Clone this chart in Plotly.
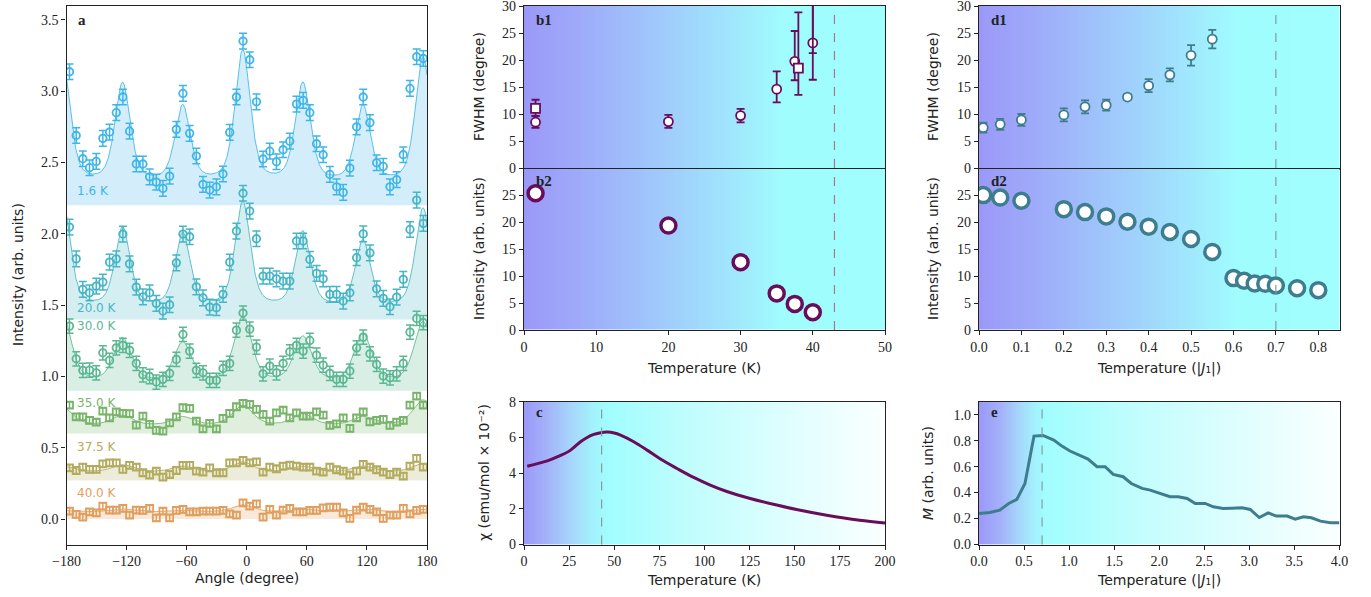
import numpy as np
import plotly.graph_objects as go

W, H = 1371, 597

# ---------------- Panel a data ----------------
angles = [-177.0, -170.3, -163.7, -157.0, -150.3, -143.7, -137.0, -130.3, -123.7, -117.0,
          -110.3, -103.7, -97.0, -90.3, -83.7, -77.0, -70.3, -63.7, -57.0, -50.3,
          -43.7, -37.0, -30.3, -23.7, -17.0, -10.3, -3.7, 3.0, 9.7, 16.3,
          23.0, 29.7, 36.3, 43.0, 49.7, 56.3, 63.0, 69.7, 76.3, 83.0,
          89.7, 96.3, 103.0, 109.7, 116.3, 123.0, 129.7, 136.3, 143.0, 149.7,
          156.3, 163.0, 169.7, 176.3]

I_1p6 = [3.137, 2.69, 2.527, 2.464, 2.508, 2.67, 2.714, 2.85, 2.96, 2.72,
         2.49, 2.49, 2.40, 2.363, 2.319, 2.405, 2.733, 2.985, 2.705, 2.546,
         2.347, 2.307, 2.33, 2.42, 2.712, 2.96, 3.352, 3.221, 2.926, 2.525,
         2.58, 2.506, 2.59, 2.65, 2.91, 2.936, 2.85, 2.632, 2.555, 2.417,
         2.33, 2.291, 2.461, 2.751, 2.96, 2.78, 2.499, 2.473, 2.33, 2.38,
         2.555, 3.02, 3.242, 3.23]
I_20 = [2.048, 1.825, 1.611, 1.587, 1.634, 1.662, 1.802, 1.825, 1.999, 1.79,
        1.627, 1.559, 1.587, 1.513, 1.459, 1.503, 1.797, 1.999, 1.98, 1.629,
        1.552, 1.487, 1.482, 1.576, 1.802, 2.02, 2.285, 2.16, 1.966, 1.704,
        1.704, 1.685, 1.669, 1.669, 1.95, 1.95, 1.821, 1.723, 1.685, 1.576,
        1.576, 1.529, 1.587, 1.833, 2.0, 1.867, 1.615, 1.548, 1.489, 1.557,
        1.681, 2.031, 2.237, 2.074]
I_30 = [1.353, 1.124, 1.043, 1.045, 1.026, 1.166, 1.113, 1.201, 1.218, 1.183,
        1.092, 1.012, 1.0, 0.961, 0.98, 1.022, 1.12, 1.295, 1.178, 1.043,
        1.026, 0.973, 0.973, 1.057, 1.092, 1.325, 1.445, 1.332, 1.206, 1.019,
        1.073, 1.026, 1.092, 1.173, 1.218, 1.178, 1.253, 1.15, 1.08, 1.022,
        0.98, 0.98, 1.038, 1.201, 1.276, 1.159, 1.085, 1.003, 0.991, 1.019,
        1.092, 1.311, 1.407, 1.377]
I_35 = [0.80, 0.717, 0.717, 0.692, 0.68, 0.757, 0.71, 0.752, 0.741, 0.74,
        0.659, 0.722, 0.664, 0.622, 0.617, 0.675, 0.717, 0.781, 0.776, 0.687,
        0.633, 0.671, 0.633, 0.706, 0.741, 0.788, 0.811, 0.804, 0.769, 0.734,
        0.687, 0.745, 0.764, 0.71, 0.745, 0.722, 0.722, 0.752, 0.729, 0.657,
        0.668, 0.71, 0.636, 0.71, 0.752, 0.682, 0.692, 0.699, 0.657, 0.68,
        0.692, 0.80, 0.863, 0.80]
I_37p5 = [0.36, 0.341, 0.365, 0.349, 0.349, 0.388, 0.395, 0.395, 0.349, 0.377,
          0.365, 0.325, 0.309, 0.337, 0.295, 0.313, 0.341, 0.377, 0.377, 0.337,
          0.33, 0.36, 0.325, 0.325, 0.395, 0.395, 0.412, 0.395, 0.402, 0.33,
          0.365, 0.353, 0.372, 0.379, 0.372, 0.365, 0.365, 0.337, 0.33, 0.365,
          0.346, 0.337, 0.309, 0.337, 0.383, 0.365, 0.346, 0.33, 0.313, 0.33,
          0.302, 0.372, 0.426, 0.365]
I_40 = [0.056, 0.033, 0.014, 0.051, 0.044, 0.091, 0.063, 0.063, 0.075, 0.028,
        0.063, 0.061, 0.075, 0.009, 0.056, 0.009, 0.061, 0.068, 0.051, 0.051,
        0.056, 0.056, 0.056, 0.061, 0.037, 0.028, 0.114, 0.091, 0.107, 0.014,
        0.068, 0.028, 0.063, 0.075, 0.051, 0.051, 0.061, 0.061, 0.079, 0.084,
        0.084, 0.044, 0.005, 0.063, 0.084, 0.068, 0.051, 0.005, 0.028, 0.028,
        0.075, 0.037, 0.061, 0.068]

temps_a = ["1.6 K", "20.0 K", "30.0 K", "35.0 K", "37.5 K", "40.0 K"]
series_a = [I_1p6, I_20, I_30, I_35, I_37p5, I_40]
err_a = [0.055, 0.055, 0.05, 0.022, 0.022, 0.022]
offsets_a = [2.2, 1.4, 0.9, 0.6, 0.27, 0.0]
label_y_a = [2.30, 1.48, 1.353, 0.813, 0.505, 0.182]
colors_a = ["#3fb6e8", "#46b6c6", "#5bb893", "#78b56b", "#b3ac5f", "#e19f5e"]
rgb_a = [(63, 182, 232), (70, 182, 198), (91, 184, 147), (120, 181, 107), (179, 172, 95), (225, 159, 94)]
symbols_a = ["circle-open", "circle-open", "circle-open", "square-open", "square-open", "square-open"]

# pseudo-Voigt fit parameters
fit_centers = [-184, -124, -64, -4, 56, 116, 176]
fit_bg = [2.35, 1.475, 0.95, 0.655, 0.33, 0.05]
fit_fwhm = [18.0, 18.0, 21.0, 24.0, 24.0, 24.0]
fit_amps = [
    [0.86, 0.695, 0.535, 0.925, 0.695, 0.535, 0.885],
    [0.76, 0.56, 0.52, 0.74, 0.53, 0.47, 0.70],
    [0.48, 0.31, 0.28, 0.46, 0.32, 0.34, 0.43],
    [0.13, 0.07, 0.06, 0.14, 0.08, 0.06, 0.18],
    [0.04, 0.05, 0.04, 0.07, 0.04, 0.04, 0.06],
    [0.01, 0.02, 0.01, 0.05, 0.02, 0.02, 0.02],
]

# ---------------- Panel b data ----------------
b_T = [1.6, 20, 30, 35, 37.5, 40]
b_fwhm = [8.55, 8.66, 9.77, 14.66, 19.8, 23.2]
b_fwhm_plus = [1.15, 1.25, 1.25, 3.3, 5.6, 8.0]
b_fwhm_minus = [1.05, 1.15, 1.25, 2.45, 3.5, 6.8]
b_sq_T = [1.6, 38.0, 40.0]
b_sq_fwhm = [11.1, 18.55, 33.0]
b_sq_plus = [1.6, 10.3, 5.0]
b_sq_minus = [1.4, 4.95, 11.7]
b_int = [25.4, 19.4, 12.6, 6.8, 4.85, 3.3]
b_Tc = 43.0

# ---------------- Panel c data ----------------
c_T = [1.8, 12.9, 20.3, 25.8, 31.3, 35.0, 38.7, 42.5, 46.1, 50.0, 53.5, 60.8, 68.2, 75.6,
       84.8, 94.0, 103.2, 112.4, 125.3, 140.0, 151.0, 167.7, 186.0, 200.0]
c_chi = [4.39, 4.69, 4.99, 5.29, 5.76, 6.0, 6.17, 6.27, 6.30, 6.25, 6.13, 5.76, 5.29, 4.79,
         4.26, 3.76, 3.33, 2.97, 2.58, 2.21, 1.96, 1.64, 1.36, 1.21]

# ---------------- Panel d data ----------------
d1_T = [0.01, 0.05, 0.1, 0.2, 0.25, 0.3, 0.35, 0.4, 0.45, 0.5, 0.55]
d1_fwhm = [7.55, 8.16, 8.97, 9.9, 11.4, 11.7, 13.2, 15.3, 17.3, 20.9, 23.9]
d1_err = [0.9, 1.0, 1.1, 1.2, 1.2, 1.0, 0.5, 1.2, 1.2, 1.9, 1.7]
d2_T = [0.01, 0.05, 0.1, 0.2, 0.25, 0.3, 0.35, 0.4, 0.45, 0.5, 0.55, 0.6, 0.625, 0.65,
        0.675, 0.7, 0.75, 0.8]
d2_int = [25.06, 24.6, 24.0, 22.45, 21.9, 21.1, 20.1, 19.2, 18.2, 16.9, 14.5, 9.64, 9.14,
          8.64, 8.58, 8.27, 7.77, 7.4]
d_Tc = 0.7

# ---------------- Panel e data ----------------
e_T = [0.0, 0.12, 0.23, 0.33, 0.42, 0.51, 0.61, 0.71, 0.83, 0.92, 1.01, 1.12, 1.21, 1.31,
       1.40, 1.49, 1.60, 1.69, 1.81, 1.90, 2.01, 2.12, 2.21, 2.31, 2.40, 2.51, 2.60, 2.71,
       2.80, 2.92, 3.01, 3.11, 3.21, 3.30, 3.42, 3.51, 3.60, 3.69, 3.79, 3.90, 4.0]
e_M = [0.239, 0.247, 0.265, 0.316, 0.347, 0.47, 0.835, 0.84, 0.805, 0.758, 0.72, 0.689,
       0.658, 0.599, 0.599, 0.54, 0.522, 0.47, 0.432, 0.419, 0.393, 0.368, 0.368, 0.355,
       0.316, 0.316, 0.29, 0.278, 0.28, 0.283, 0.27, 0.208, 0.244, 0.219, 0.219, 0.195,
       0.213, 0.206, 0.18, 0.167, 0.167]

PURPLE = "#690c5c"
TEAL = "#3e7d8e"

# ---------------- layout geometry (pixels) ----------------
def xd(x0, x1):
    return [x0 / W, x1 / W]

def yd(y0, y1):  # y0 top px, y1 bottom px
    return [1 - y1 / H, 1 - y0 / H]

A_X = xd(66.5, 427)
B_X = xd(524, 885)
D_X = xd(979, 1339.5)
TOP = yd(6, 168.5)
MID = yd(168.5, 330)
BOT = yd(401.7, 544.5)
A_Y = yd(6, 544.5)

fig = go.Figure()

# ---------------- gradient backgrounds ----------------
def grad(xa, ya, x0, x1, stops):
    xs = list(np.linspace(x0, x1, 240))
    fig.add_trace(go.Heatmap(x=xs, y=[-1000, 1000], z=[xs, xs], zmin=x0, zmax=x1,
                             colorscale=stops, zsmooth="best", showscale=False,
                             hoverinfo="skip", xaxis=xa, yaxis=ya))

stops_bd = [[0, "#9b99f8"], [0.15, "#9eaaf9"], [0.4, "#a0cdfc"], [0.6, "#a0eafd"],
            [0.72, "#a0fdfe"], [1, "#a0fefe"]]
stops_c = [[0, "#9b99f8"], [0.06, "#a3b2f9"], [0.13, "#a6d6fb"], [0.19, "#a2f2fd"],
           [0.23, "#a0fdfe"], [0.45, "#c0fdfd"], [0.7, "#dcfefe"], [1, "#fbffff"]]
stops_e = [[0, "#9b99f8"], [0.06, "#a3b2f9"], [0.11, "#a6d6fb"], [0.155, "#a2f2fd"],
           [0.18, "#a0fdfe"], [0.45, "#c4fdfd"], [0.75, "#e2fefe"], [1, "#fbffff"]]

grad("x2", "y2", 0, 50, stops_bd)
grad("x3", "y3", 0, 50, stops_bd)
grad("x4", "y4", 0, 200, stops_c)
grad("x5", "y5", 0, 0.85, stops_bd)
grad("x6", "y6", 0, 0.85, stops_bd)
grad("x7", "y7", 0, 4, stops_e)

# ---------------- panel a ----------------
def pvoigt(x, c, amp, fwhm, eta=0.5):
    u = (x - c) / (fwhm / 2.0)
    return amp * (eta / (1 + u ** 2) + (1 - eta) * np.exp(-np.log(2) * u ** 2))

xfit = np.linspace(-180, 180, 721)
for i in range(6):
    r, g, b = rgb_a[i]
    yfit = np.full_like(xfit, fit_bg[i])
    for c, amp in zip(fit_centers, fit_amps[i]):
        yfit = yfit + pvoigt(xfit, c, amp, fit_fwhm[i])
    fig.add_trace(go.Scatter(x=[-180, 180], y=[offsets_a[i]] * 2, mode="lines",
                             line=dict(width=0, color="rgba(0,0,0,0)"), showlegend=False,
                             hoverinfo="skip", xaxis="x", yaxis="y"))
    fig.add_trace(go.Scatter(x=xfit, y=yfit, mode="lines", fill="tonexty",
                             fillcolor=f"rgba({r},{g},{b},0.23)",
                             line=dict(width=1, color=f"rgba({r},{g},{b},0.85)"),
                             showlegend=False, hoverinfo="skip", xaxis="x", yaxis="y"))
    fig.add_trace(go.Scatter(x=angles, y=series_a[i], mode="markers",
                             marker=dict(symbol=symbols_a[i], size=7.5 if i < 3 else 7,
                                         color=colors_a[i], line=dict(width=1.8, color=colors_a[i])),
                             error_y=dict(type="constant", value=err_a[i], color=colors_a[i],
                                          thickness=1.5, width=4),
                             showlegend=False, xaxis="x", yaxis="y"))

# ---------------- panel b ----------------
fig.add_trace(go.Scatter(x=b_T, y=b_fwhm, mode="markers",
                         marker=dict(symbol="circle", size=9, color="white",
                                     line=dict(width=1.8, color=PURPLE)),
                         error_y=dict(type="data", array=b_fwhm_plus, arrayminus=b_fwhm_minus,
                                      color=PURPLE, thickness=1.8, width=4),
                         showlegend=False, xaxis="x2", yaxis="y2"))
fig.add_trace(go.Scatter(x=b_sq_T, y=b_sq_fwhm, mode="markers",
                         marker=dict(symbol="square", size=9, color="white",
                                     line=dict(width=1.8, color=PURPLE)),
                         error_y=dict(type="data", array=b_sq_plus, arrayminus=b_sq_minus,
                                      color=PURPLE, thickness=1.8, width=4),
                         showlegend=False, xaxis="x2", yaxis="y2"))
fig.add_trace(go.Scatter(x=b_T, y=b_int, mode="markers",
                         marker=dict(symbol="circle", size=15, color="white",
                                     line=dict(width=3.5, color=PURPLE)),
                         showlegend=False, xaxis="x3", yaxis="y3"))

# ---------------- panel c ----------------
fig.add_trace(go.Scatter(x=c_T, y=c_chi, mode="lines", line=dict(color=PURPLE, width=3, shape="spline"),
                         showlegend=False, xaxis="x4", yaxis="y4"))

# ---------------- panel d ----------------
fig.add_trace(go.Scatter(x=d1_T, y=d1_fwhm, mode="markers",
                         marker=dict(symbol="circle", size=9, color="white",
                                     line=dict(width=1.8, color=TEAL)),
                         error_y=dict(type="data", array=d1_err, color=TEAL, thickness=1.8, width=4),
                         showlegend=False, xaxis="x5", yaxis="y5"))
fig.add_trace(go.Scatter(x=d2_T, y=d2_int, mode="markers",
                         marker=dict(symbol="circle", size=15, color="white",
                                     line=dict(width=3.5, color=TEAL)),
                         showlegend=False, xaxis="x6", yaxis="y6"))

# ---------------- panel e ----------------
fig.add_trace(go.Scatter(x=e_T, y=e_M, mode="lines", line=dict(color=TEAL, width=3),
                         showlegend=False, xaxis="x7", yaxis="y7"))

# ---------------- axes ----------------
TICKFONT = dict(family="Liberation Serif", size=14, color="#222")

def ax(domain, anchor, rng, tickvals=None, ticktext=None, showlabels=True, **kw):
    d = dict(domain=domain, anchor=anchor, range=rng, showline=True, mirror=True,
             linecolor="#222", linewidth=1.3, ticks="outside", ticklen=4, tickwidth=1,
             tickcolor="#222", showgrid=False, zeroline=False, tickfont=TICKFONT,
             showticklabels=showlabels, fixedrange=True, automargin=False,
             ticklabeloverflow="allow")
    if tickvals is not None:
        d["tickvals"] = tickvals
    if ticktext is not None:
        d["ticktext"] = ticktext
    d.update(kw)
    return d

fig.update_layout(
    template="none",
    width=W, height=H, margin=dict(l=0, r=0, t=0, b=0, pad=0), autosize=False,
    paper_bgcolor="white", plot_bgcolor="white", showlegend=False,
    xaxis=ax(A_X, "y", [-180, 180], [-180, -120, -60, 0, 60, 120, 180]),
    yaxis=ax(A_Y, "x", [-0.178, 3.598], [0, 0.5, 1, 1.5, 2, 2.5, 3, 3.5],
             ["0.0", "0.5", "1.0", "1.5", "2.0", "2.5", "3.0", "3.5"]),
    xaxis2=ax(B_X, "y2", [0, 50], [0, 10, 20, 30, 40, 50], showlabels=False),
    yaxis2=ax(TOP, "x2", [0, 30.02], [0, 5, 10, 15, 20, 25, 30]),
    xaxis3=ax(B_X, "y3", [0, 50], [0, 10, 20, 30, 40, 50]),
    yaxis3=ax(MID, "x3", [0, 30], [0, 5, 10, 15, 20, 25]),
    xaxis4=ax(B_X, "y4", [0, 200], [0, 25, 50, 75, 100, 125, 150, 175, 200]),
    yaxis4=ax(BOT, "x4", [0, 8.005], [0, 2, 4, 6, 8]),
    xaxis5=ax(D_X, "y5", [0, 0.85], [0, 0.1, 0.2, 0.3, 0.4, 0.5, 0.6, 0.7, 0.8], showlabels=False),
    yaxis5=ax(TOP, "x5", [0, 30.02], [0, 5, 10, 15, 20, 25, 30]),
    xaxis6=ax(D_X, "y6", [0, 0.85], [0, 0.1, 0.2, 0.3, 0.4, 0.5, 0.6, 0.7, 0.8],
              ["0.0", "0.1", "0.2", "0.3", "0.4", "0.5", "0.6", "0.7", "0.8"]),
    yaxis6=ax(MID, "x6", [0, 30], [0, 5, 10, 15, 20, 25]),
    xaxis7=ax(D_X, "y7", [0, 4.001], [0, 0.5, 1, 1.5, 2, 2.5, 3, 3.5, 4],
              ["0.0", "0.5", "1.0", "1.5", "2.0", "2.5", "3.0", "3.5", "4.0"]),
    yaxis7=ax(BOT, "x7", [0, 1.1], [0, 0.2, 0.4, 0.6, 0.8, 1.0],
              ["0.0", "0.2", "0.4", "0.6", "0.8", "1.0"]),
)

# ---------------- dashed Tc lines ----------------
fig.add_shape(type="line", xref="x2", yref="paper", x0=b_Tc, x1=b_Tc, y0=MID[0], y1=TOP[1],
              line=dict(color="#a8788a", width=1.2, dash="dash"))
fig.add_shape(type="line", xref="x4", yref="paper", x0=b_Tc, x1=b_Tc, y0=BOT[0], y1=BOT[1],
              line=dict(color="#8a9a9c", width=1.2, dash="dash"))
fig.add_shape(type="line", xref="x5", yref="paper", x0=d_Tc, x1=d_Tc, y0=MID[0], y1=TOP[1],
              line=dict(color="#7d9aa0", width=1.2, dash="dash"))
fig.add_shape(type="line", xref="x7", yref="paper", x0=d_Tc, x1=d_Tc, y0=BOT[0], y1=BOT[1],
              line=dict(color="#8a9a9c", width=1.2, dash="dash"))

# ---------------- annotations ----------------
def txt(x, y, s, size=14, color="#222", family="DejaVu Sans", angle=0, xanchor="center", bold=False):
    if bold:
        s = f"<b>{s}</b>"
    fig.add_annotation(x=x / W, y=1 - y / H, xref="paper", yref="paper", text=s, showarrow=False,
                       font=dict(family=family, size=size, color=color), textangle=angle,
                       xanchor=xanchor, yanchor="middle")

for i in range(6):
    fig.add_annotation(x=-171, y=label_y_a[i], xref="x", yref="y", text=temps_a[i], showarrow=False,
                       font=dict(family="DejaVu Sans", size=12, color=colors_a[i]),
                       xanchor="left", yanchor="middle", borderpad=0)

for (x, y, s) in [(76, 20, "a"), (534, 20, "b1"), (534, 181, "b2"), (534, 412, "c"),
                  (989, 20, "d1"), (989, 181, "d2"), (989, 412, "e")]:
    txt(x, y, s, size=15, family="Liberation Serif", xanchor="left", bold=True)

txt(247, 578, "Angle (degree)")
txt(18, 275, "Intensity (arb. units)", angle=-90)
txt(704, 368, "Temperature (K)")
txt(479, 87, "FWHM (degree)", angle=-90)
txt(479, 249, "Intensity (arb. units)", angle=-90)
txt(704, 580, "Temperature (K)")
txt(484, 473, "χ (emu/mol × 10⁻²)", angle=-90)
txt(1159, 368, "Temperature (|<i>J</i>₁|)")
txt(933, 87, "FWHM (degree)", angle=-90)
txt(933, 249, "Intensity (arb. units)", angle=-90)
txt(1159, 580, "Temperature (|<i>J</i>₁|)")
txt(928, 473, "<i>M</i> (arb. units)", angle=-90)

fig.write_html("out.html",
               post_script="document.body.style.margin='0';document.body.style.overflow='hidden';")
